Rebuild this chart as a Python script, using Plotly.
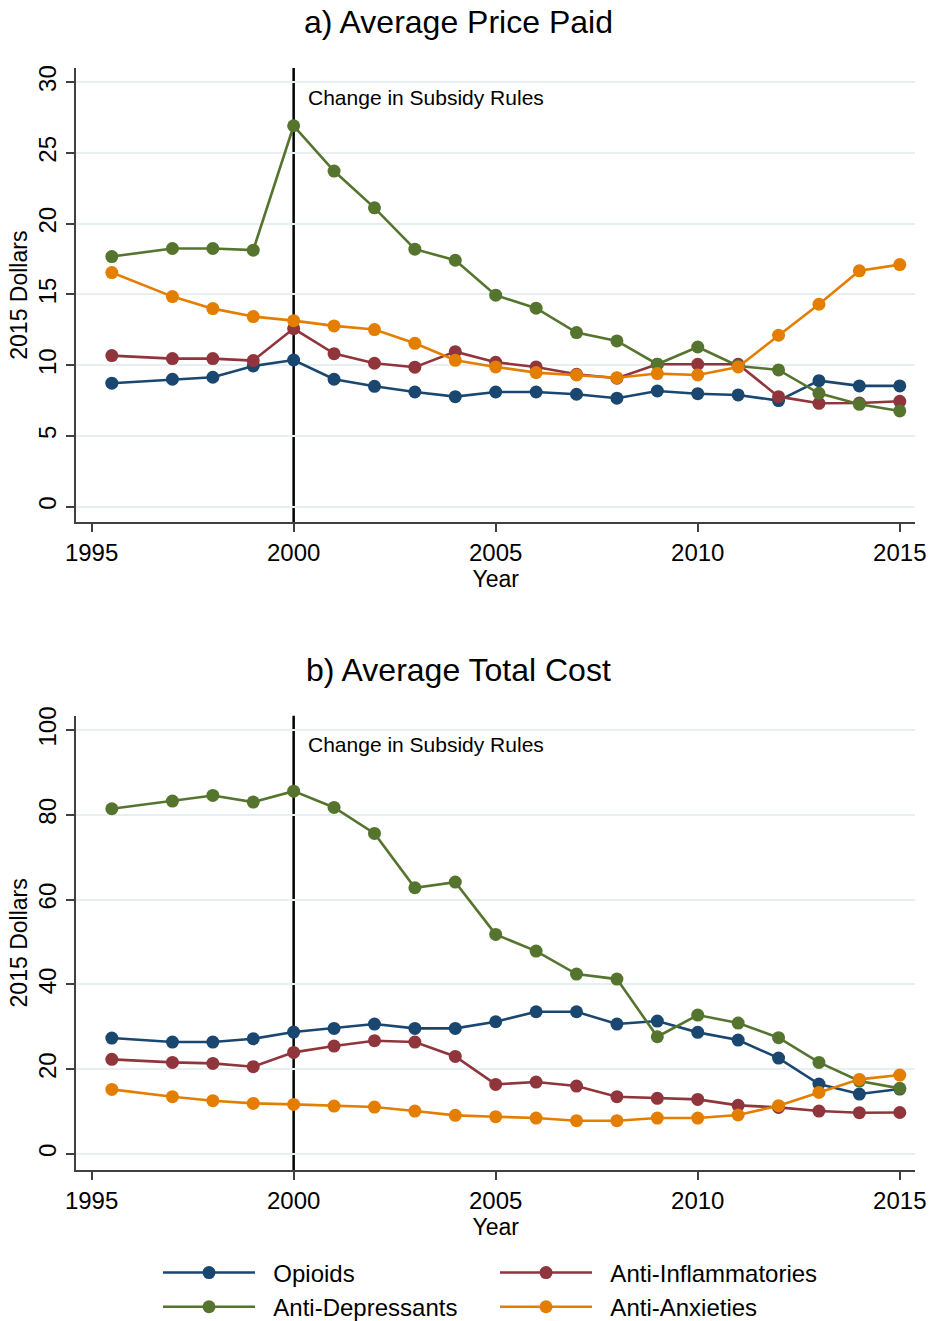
import plotly.graph_objects as go

# Survey years (first wave is mid-1995)
years = [1995.5, 1997, 1998, 1999, 2000, 2001, 2002, 2003, 2004, 2005,
         2006, 2007, 2008, 2009, 2010, 2011, 2012, 2013, 2014, 2015]

# a) Average price paid, 2015 dollars
opioids_price = [8.73, 9.01, 9.15, 9.95, 10.37, 9.01, 8.51, 8.11, 7.78, 8.11,
                 8.11, 7.95, 7.67, 8.18, 7.99, 7.90, 7.50, 8.91, 8.54, 8.54]
antiinfl_price = [10.68, 10.47, 10.47, 10.33, 12.59, 10.82, 10.14, 9.86, 10.96, 10.21,
                  9.88, 9.36, 9.08, 10.07, 10.07, 10.07, 7.78, 7.31, 7.33, 7.45]
antidep_price = [17.68, 18.25, 18.25, 18.13, 26.92, 23.72, 21.12, 18.20, 17.42, 14.95,
                 14.03, 12.31, 11.72, 10.07, 11.29, 9.95, 9.67, 8.02, 7.24, 6.77]
antianx_price = [16.55, 14.85, 14.00, 13.44, 13.15, 12.78, 12.52, 11.55, 10.35, 9.88,
                 9.48, 9.31, 9.12, 9.41, 9.31, 9.88, 12.12, 14.31, 16.67, 17.11]

# b) Average total cost, 2015 dollars
opioids_cost = [27.36, 26.42, 26.42, 27.20, 28.77, 29.64, 30.66, 29.64, 29.64, 31.20,
                33.57, 33.57, 30.66, 31.37, 28.70, 26.89, 22.64, 16.51, 14.15, 15.33]
antiinfl_cost = [22.33, 21.62, 21.38, 20.60, 23.98, 25.47, 26.73, 26.42, 23.03, 16.43,
                 16.98, 16.04, 13.52, 13.13, 12.89, 11.48, 11.00, 10.14, 9.75, 9.80]
antidep_cost = [81.45, 83.26, 84.59, 83.02, 85.61, 81.76, 75.63, 62.81, 64.15, 51.81,
                47.88, 42.45, 41.27, 27.67, 32.78, 30.90, 27.44, 21.62, 17.22, 15.49]
antianx_cost = [15.25, 13.52, 12.58, 11.95, 11.71, 11.32, 11.08, 10.14, 9.12, 8.81,
                8.49, 7.86, 7.86, 8.49, 8.49, 9.20, 11.40, 14.54, 17.61, 18.63]

series_names = ["Opioids", "Anti-Inflammatories", "Anti-Depressants", "Anti-Anxieties"]
series_colors = ["#1a476f", "#90353b", "#55752f", "#e37e00"]
series_legend = ["legend", "legend2", "legend", "legend2"]

x_ticks = [1995, 2000, 2005, 2010, 2015]
price_ticks = [0, 5, 10, 15, 20, 25, 30]
cost_ticks = [0, 20, 40, 60, 80, 100]
policy_year = 2000
policy_label = "Change in Subsidy Rules"
panel_titles = ["a) Average Price Paid", "b) Average Total Cost"]

FONT = "Liberation Sans, Arial, Helvetica, sans-serif"
AXIS_COLOR = "#404040"
GRID_COLOR = "#e8eff1"
NBSP = "\u00a0"

fig = go.Figure()

price_data = [opioids_price, antiinfl_price, antidep_price, antianx_price]
cost_data = [opioids_cost, antiinfl_cost, antidep_cost, antianx_cost]

for name, color, leg, vals in zip(series_names, series_colors, series_legend, price_data):
    fig.add_trace(go.Scatter(
        x=years, y=vals, name=NBSP * 2 + name, mode="lines+markers",
        line=dict(color=color, width=2.6),
        marker=dict(color=color, size=13),
        xaxis="x", yaxis="y", legend=leg, showlegend=True,
    ))

for name, color, vals in zip(series_names, series_colors, cost_data):
    fig.add_trace(go.Scatter(
        x=years, y=vals, name=name, mode="lines+markers",
        line=dict(color=color, width=2.6),
        marker=dict(color=color, size=13),
        xaxis="x2", yaxis="y2", showlegend=False,
    ))

x_dom = [0.082, 0.984]


def x_axis(anchor):
    return dict(
        domain=x_dom, anchor=anchor, range=[1994.62, 2015.38],
        tickmode="array", tickvals=x_ticks, automargin=False,
        ticks="outside", ticklen=8, tickwidth=1.5, tickcolor=AXIS_COLOR,
        showline=True, linecolor=AXIS_COLOR, linewidth=1.5,
        showgrid=False, zeroline=False,
        tickfont=dict(size=24, color="black", family=FONT),
        title=dict(text="Year", font=dict(size=23, color="black", family=FONT), standoff=0),
    )


def y_axis(anchor, dom, rng, ticks):
    return dict(
        domain=dom, anchor=anchor, range=rng, automargin=False,
        tickmode="array", tickvals=ticks, tickangle=-90,
        ticks="outside", ticklen=9, tickwidth=1.5, tickcolor=AXIS_COLOR,
        showline=True, linecolor=AXIS_COLOR, linewidth=1.5,
        showgrid=True, gridcolor=GRID_COLOR, gridwidth=2, zeroline=False,
        tickfont=dict(size=24, color="black", family=FONT),
        title=dict(text="2015 Dollars", font=dict(size=23, color="black", family=FONT), standoff=0),
    )


legend_style = dict(yanchor="top", orientation="v",
                    font=dict(size=24, family=FONT, color="black"),
                    itemwidth=92, tracegroupgap=0, bgcolor="rgba(0,0,0,0)")

fig.update_layout(
    width=930, height=1321,
    margin=dict(l=0, r=0, t=0, b=0, autoexpand=False),
    paper_bgcolor="white", plot_bgcolor="white",
    font=dict(family=FONT, color="black"),
    xaxis=x_axis("y"),
    yaxis=y_axis("x", [0.6046, 0.9485], [-1.1, 31.0], price_ticks),
    xaxis2=x_axis("y2"),
    yaxis2=y_axis("x2", [0.1143, 0.4582], [-3.77, 103.4], cost_ticks),
    legend=dict(x=0.1699, y=0.0534, xanchor="left", **legend_style),
    legend2=dict(x=0.5323, y=0.0534, xanchor="left", **legend_style),
    showlegend=True,
)

for xr, yr in [("x", "y"), ("x2", "y2")]:
    fig.add_shape(type="line", xref=xr, yref=f"{yr} domain",
                  x0=policy_year, x1=policy_year, y0=0, y1=1,
                  line=dict(color="black", width=2.5), layer="below")
    fig.add_annotation(xref=xr, yref=f"{yr} domain", x=policy_year, y=0.936,
                       text=policy_label, showarrow=False, xanchor="left",
                       yanchor="middle", xshift=12,
                       font=dict(size=21, color="black", family=FONT))

for title, ypos in zip(panel_titles, [0.9833, 0.4928]):
    fig.add_annotation(xref="paper", yref="paper", x=0.493, y=ypos,
                       text=title, showarrow=False, xanchor="center",
                       yanchor="middle", font=dict(size=32, color="black", family=FONT))

fig.write_html("out.html")
